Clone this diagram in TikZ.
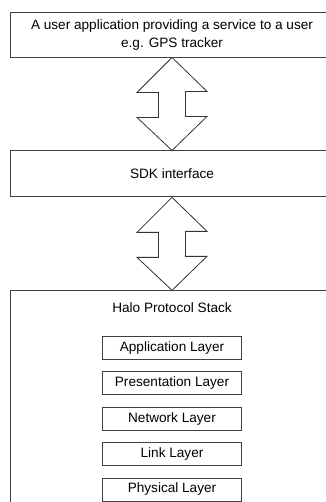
\documentclass[tikz,border=0pt]{standalone}
\usepackage{fontspec}
\setmainfont{Liberation Sans}
\usetikzlibrary{positioning}

\begin{document}
\begin{tikzpicture}[x=1pt,y=-1pt,node distance=93pt,
    font=\fontsize{13.6}{18}\selectfont,
    block/.style={draw=black!75,line width=0.9pt,minimum width=324pt,align=center},
    layer/.style={draw=black!75,line width=0.9pt,minimum width=139pt,minimum height=23pt,inner sep=0pt},
    fat/.style={draw=black!80,line width=0.8pt,line join=miter}]

            \useasboundingbox (0,0) rectangle (325,502);

            \node[block,minimum height=45pt] (app) at (172,34.5) {A user application providing a service to a user\\e.g. GPS tracker};

            \node[block,minimum height=46pt] (sdk) [below=of app] {SDK interface};

            \node[block,minimum height=230pt] (stack) [below=of sdk] {};

            \node (title) at ([yshift=-17pt]stack.north) {Halo Protocol Stack};

            \node[layer] (applayer) at ([yshift=-57.5pt]stack.north) {Application Layer};

            \node[layer] (prelayer) [below=11.5pt of applayer] {Presentation Layer};

            \node[layer] (netlayer) [below=11.5pt of prelayer] {Network Layer};

            \node[layer] (linklayer) [below=11.5pt of netlayer] {Link Layer};

            \node[layer] (phylayer) [below=11.5pt of linklayer] {Physical Layer};

            

            % two-way arrows between the blocks
            \draw[fat] (app.south) -- ++(35,34) -- ++(-21.5,0) -- ++(0,25) -- ++(21.5,0)
                       -- (sdk.north) -- ++(-35,-33) -- ++(21.5,0) -- ++(0,-25) -- ++(-21.5,0) -- cycle;

            \draw[fat] (sdk.south) -- ++(35,34) -- ++(-21.5,0) -- ++(0,25) -- ++(21.5,0)
                       -- (stack.north) -- ++(-35,-33) -- ++(21.5,0) -- ++(0,-25) -- ++(-21.5,0) -- cycle;

        \end{tikzpicture}
\end{document}
